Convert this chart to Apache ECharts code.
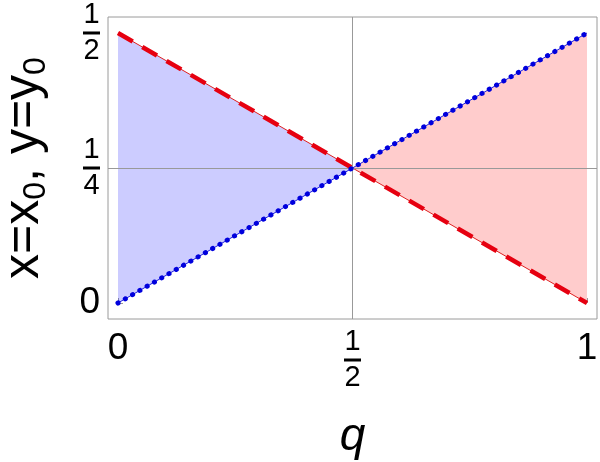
<!DOCTYPE html>
<html>
<head>
<meta charset="utf-8">
<script src="https://cdn.jsdelivr.net/npm/echarts@6/dist/echarts.min.js"></script>
<style>
  html, body { margin: 0; padding: 0; background: #fff; }
  #chart { width: 600px; height: 462px; }
</style>
</head>
<body>
<div id="chart"></div>
<script>
// data
const qValues = [0, 0.5, 1];
const xLine = [0.5, 0.25, 0];   // red dashed
const yLine = [0, 0.25, 0.5];   // blue dotted
const qTicks = [0, 0.5, 1];
const vTicks = [0, 0.25, 0.5];
const tickText = { 0: "0", 0.25: "1/4", 0.5: "1/2", 1: "1" };

const font = "'Liberation Sans', Arial, sans-serif";

function fmt(v) {
  const t = tickText[v];
  if (t.indexOf("/") < 0) return "{big|" + t + "}";
  const p = t.split("/");
  return "{n|" + p[0] + "}\n{bar| }\n{n|" + p[1] + "}";
}

const labelRich = {
  big: { fontSize: 37, fontFamily: font, color: "#000", lineHeight: 40 },
  n: { fontSize: 29, fontFamily: font, color: "#000", lineHeight: 26, align: "center" },
  bar: { width: 17, height: 3, backgroundColor: "#000", lineHeight: 10, fontSize: 2, align: "center" }
};

const linePts = (ys) => qValues.map((q, i) => [q, ys[i]]);

const chart = echarts.init(document.getElementById("chart"));

chart.setOption({
  animation: false,
  backgroundColor: "#fff",
  grid: {
    left: 108, right: 3, top: 17, bottom: 143,
    outerBoundsMode: "none",
    containLabel: false,
    show: true, borderColor: "#9a9a9a", borderWidth: 1
  },
  xAxis: {
    type: "value",
    min: -0.0213, max: 1.0213,
    name: "q",
    nameLocation: "middle",
    nameGap: 95,
    nameTextStyle: { fontSize: 46, fontStyle: "italic", fontFamily: font, color: "#000" },
    axisLine: { show: false },
    splitLine: { show: false },
    axisTick: { inside: true, length: 5, customValues: qTicks, lineStyle: { color: "#999" } },
    axisLabel: { customValues: qTicks, margin: 10, formatter: fmt, rich: labelRich }
  },
  yAxis: {
    type: "value",
    min: -0.0296, max: 0.5296,
    name: "{t|x=x}{s|0}{t|, y=y}{s|0}",
    nameLocation: "middle",
    nameRotate: 90,
    nameGap: 56,
    nameTextStyle: {
      rich: {
        t: { fontSize: 50, fontFamily: font, color: "#000", lineHeight: 56 },
        s: { fontSize: 32, fontFamily: font, color: "#000", lineHeight: 24, verticalAlign: "bottom" }
      }
    },
    axisLine: { show: false },
    splitLine: { show: false },
    axisTick: { inside: true, length: 5, customValues: vTicks, lineStyle: { color: "#999" } },
    axisLabel: { customValues: vTicks, margin: 8, formatter: fmt, rich: labelRich }
  },
  series: [
    {
      type: "custom",
      z: 2,
      silent: true,
      data: qValues.slice(0, -1).map((q, i) => [i]),
      renderItem: function (params, api) {
        const i = api.value(0);
        const pts = [
          api.coord([qValues[i], xLine[i]]),
          api.coord([qValues[i + 1], xLine[i + 1]]),
          api.coord([qValues[i + 1], yLine[i + 1]]),
          api.coord([qValues[i], yLine[i]])
        ];
        const blue = xLine[i] > yLine[i];
        return {
          type: "polygon",
          shape: { points: pts },
          style: { fill: blue ? "rgba(0,0,255,0.2)" : "rgba(255,0,0,0.2)" }
        };
      },
      markLine: {
        silent: true,
        symbol: "none",
        label: { show: false },
        lineStyle: { color: "#999", width: 1, type: "solid" },
        data: [{ xAxis: qTicks[1] }, { yAxis: vTicks[1] }]
      }
    },
    {
      type: "line", z: 3, data: linePts(xLine), symbol: "none",
      lineStyle: { color: "#e02020", width: 1 }
    },
    {
      type: "line", z: 4, data: linePts(xLine), symbol: "none",
      lineStyle: { color: "#e60010", width: 4.5, type: [17, 11] }
    },
    {
      type: "line", z: 5, data: linePts(yLine), symbol: "none",
      lineStyle: { color: "#2020e0", width: 1 }
    },
    {
      type: "line", z: 6, data: linePts(yLine), symbol: "none",
      lineStyle: { color: "#0000dd", width: 5, type: [0.1, 8.3], cap: "round" }
    }
  ]
});
</script>
</body>
</html>
